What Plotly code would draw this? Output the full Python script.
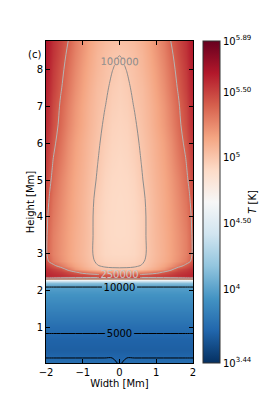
import numpy as np
import plotly.graph_objects as go

# Width positions (half grid, Mm); field is mirror-symmetric about x = 0
WIDTH_HALF = [0.0, 0.2, 0.4, 0.6, 0.8, 1.0, 1.2, 1.4, 1.6, 1.8, 1.9, 2.0]

# Heights (Mm), bottom to top
HEIGHTS = [0.04, 0.25, 0.4, 0.7, 1.0, 1.2, 1.6, 1.9, 2.08, 2.15, 2.2, 2.26, 2.30,
           2.33, 2.37, 2.42, 2.5, 2.6, 2.68, 2.8, 3.0, 3.5, 4.0, 4.5, 5.0, 5.5,
           6.0, 6.5, 7.0, 7.5, 8.0, 8.4, 8.77]

# log10(T [K]), one row per height, columns = WIDTH_HALF
LOG_T_HALF = [
    [3.68, 3.74, 3.74, 3.74, 3.74, 3.74, 3.74, 3.74, 3.74, 3.74, 3.74, 3.74],
    [3.675, 3.675, 3.675, 3.675, 3.675, 3.675, 3.675, 3.675, 3.675, 3.675, 3.675, 3.675],
    [3.655, 3.655, 3.655, 3.655, 3.655, 3.655, 3.655, 3.655, 3.655, 3.655, 3.655, 3.655],
    [3.675, 3.675, 3.675, 3.675, 3.675, 3.675, 3.675, 3.675, 3.675, 3.675, 3.675, 3.675],
    [3.725, 3.725, 3.725, 3.725, 3.725, 3.725, 3.725, 3.725, 3.725, 3.725, 3.725, 3.725],
    [3.77, 3.77, 3.77, 3.77, 3.77, 3.77, 3.77, 3.77, 3.77, 3.77, 3.77, 3.77],
    [3.86, 3.86, 3.86, 3.86, 3.86, 3.86, 3.86, 3.86, 3.86, 3.86, 3.86, 3.86],
    [3.93, 3.93, 3.93, 3.93, 3.93, 3.93, 3.93, 3.93, 3.93, 3.93, 3.93, 3.93],
    [3.98, 3.98, 3.98, 3.98, 3.98, 3.98, 3.98, 3.98, 3.98, 3.98, 3.98, 3.98],
    [4.05, 4.05, 4.05, 4.05, 4.05, 4.05, 4.05, 4.05, 4.05, 4.05, 4.05, 4.05],
    [4.14, 4.14, 4.14, 4.14, 4.14, 4.14, 4.14, 4.14, 4.14, 4.14, 4.14, 4.14],
    [4.40, 4.40, 4.40, 4.40, 4.40, 4.40, 4.40, 4.40, 4.40, 4.40, 4.40, 4.40],
    [4.60, 4.60, 4.60, 4.60, 4.60, 4.60, 4.60, 4.60, 4.60, 4.60, 4.60, 4.60],
    [5.12, 5.12, 5.12, 5.13, 5.13, 5.14, 5.15, 5.16, 5.17, 5.18, 5.19, 5.20],
    [5.46, 5.46, 5.465, 5.47, 5.48, 5.49, 5.50, 5.52, 5.54, 5.56, 5.57, 5.58],
    [5.42, 5.422, 5.43, 5.44, 5.46, 5.48, 5.50, 5.53, 5.56, 5.58, 5.59, 5.60],
    [5.20, 5.205, 5.22, 5.25, 5.29, 5.34, 5.41, 5.47, 5.52, 5.55, 5.565, 5.58],
    [5.01, 5.012, 5.02, 5.045, 5.09, 5.14, 5.21, 5.33, 5.45, 5.51, 5.535, 5.56],
    [4.97, 4.972, 4.98, 5.005, 5.05, 5.10, 5.16, 5.23, 5.32, 5.43, 5.47, 5.52],
    [4.94, 4.942, 4.95, 4.98, 5.03, 5.075, 5.12, 5.17, 5.23, 5.31, 5.37, 5.45],
    [4.92, 4.922, 4.93, 4.965, 5.02, 5.065, 5.11, 5.16, 5.215, 5.285, 5.335, 5.42],
    [4.91, 4.913, 4.925, 4.96, 5.025, 5.07, 5.115, 5.165, 5.22, 5.29, 5.34, 5.42],
    [4.91, 4.913, 4.925, 4.96, 5.025, 5.075, 5.125, 5.175, 5.235, 5.31, 5.36, 5.43],
    [4.91, 4.915, 4.93, 4.97, 5.03, 5.08, 5.13, 5.185, 5.25, 5.33, 5.385, 5.46],
    [4.915, 4.92, 4.94, 4.99, 5.04, 5.09, 5.14, 5.20, 5.27, 5.36, 5.42, 5.49],
    [4.92, 4.93, 4.955, 5.003, 5.05, 5.10, 5.155, 5.22, 5.30, 5.39, 5.45, 5.52],
    [4.93, 4.94, 4.97, 5.015, 5.06, 5.11, 5.17, 5.24, 5.33, 5.425, 5.485, 5.55],
    [4.94, 4.95, 4.985, 5.03, 5.075, 5.13, 5.195, 5.27, 5.36, 5.46, 5.52, 5.58],
    [4.95, 4.965, 5.003, 5.04, 5.085, 5.14, 5.21, 5.29, 5.38, 5.48, 5.54, 5.60],
    [4.96, 4.98, 5.02, 5.05, 5.10, 5.16, 5.235, 5.32, 5.41, 5.51, 5.565, 5.62],
    [4.975, 5.003, 5.03, 5.07, 5.12, 5.18, 5.26, 5.345, 5.435, 5.53, 5.585, 5.64],
    [5.002, 5.015, 5.04, 5.08, 5.135, 5.20, 5.28, 5.37, 5.46, 5.55, 5.60, 5.65],
    [5.03, 5.04, 5.06, 5.10, 5.15, 5.22, 5.30, 5.40, 5.48, 5.56, 5.61, 5.66],
]

# Contour levels (K)
BLACK_LEVELS = [5000, 10000]
GRAY_LEVEL_1 = 100000
GRAY_LEVEL_2 = 250000
CORONA_BASE = 2.42  # Mm: the 100000 K loop is labelled only above this height

# Colour bar
CBAR_MIN, CBAR_MAX = 3.44, 5.89
CBAR_TICKS = [3.44, 4.0, 4.5, 5.0, 5.5, 5.89]
CBAR_TEXT = ["10<sup>3.44</sup>", "10<sup>4</sup>", "10<sup>4.50</sup>",
             "10<sup>5</sup>", "10<sup>5.50</sup>", "10<sup>5.89</sup>"]

X_TICKS = [-2, -1, 0, 1, 2]
Y_TICKS = [1, 2, 3, 4, 5, 6, 7, 8]

RDBU_R = [[0.0, "#053061"], [0.1, "#2166ac"], [0.2, "#4393c3"], [0.3, "#92c5de"],
          [0.4, "#d1e5f0"], [0.5, "#f7f7f7"], [0.6, "#fddbc7"], [0.7, "#f4a582"],
          [0.8, "#d6604d"], [0.9, "#b2182b"], [1.0, "#67001f"]]

# Build full symmetric grid from the half table
x_full = [-w for w in WIDTH_HALF[:0:-1]] + WIDTH_HALF
log_t = np.array([row[:0:-1] + row for row in LOG_T_HALF])
temp = 10.0 ** log_t
heights = np.array(HEIGHTS)
upper = heights >= CORONA_BASE
lower = heights <= CORONA_BASE

FONT = "DejaVu Sans"

fig = go.Figure()
fig.add_trace(go.Heatmap(
    x=x_full, y=HEIGHTS, z=log_t, zsmooth="best",
    colorscale=RDBU_R, zmin=CBAR_MIN, zmax=CBAR_MAX, hoverinfo="skip",
    colorbar=dict(
        x=1.068, xanchor="left", xpad=0, y=0.5, yanchor="middle", ypad=0,
        len=1, lenmode="fraction", thickness=17, outlinewidth=1, outlinecolor="#333",
        tickvals=CBAR_TICKS, ticktext=CBAR_TEXT, ticks="",
        tickfont=dict(family=FONT, size=10, color="black"),
    ),
))


def contour_trace(ys, zs, start, end, size, line_color, label_color, labels=True):
    return go.Contour(
        x=x_full, y=ys, z=zs, showscale=False, hoverinfo="skip",
        contours=dict(start=start, end=end, size=size, coloring="none",
                      showlabels=labels, labelformat="d",
                      labelfont=dict(family=FONT, size=10, color=label_color)),
        line=dict(color=line_color, width=1),
    )


fig.add_trace(contour_trace(HEIGHTS, temp, BLACK_LEVELS[0], BLACK_LEVELS[-1],
                            BLACK_LEVELS[1] - BLACK_LEVELS[0], "black", "black"))
fig.add_trace(contour_trace(heights[lower], temp[lower], GRAY_LEVEL_1, GRAY_LEVEL_1, 1,
                            "#8c8c8c", "#8c8c8c", labels=False))
fig.add_trace(contour_trace(heights[upper], temp[upper], GRAY_LEVEL_1, GRAY_LEVEL_1, 1,
                            "#8c8c8c", "#8c8c8c"))
fig.add_trace(contour_trace(HEIGHTS, temp, GRAY_LEVEL_2, GRAY_LEVEL_2, 1,
                            "#b4b4b4", "#c8c8c8"))

axis_common = dict(showline=True, linecolor="black", linewidth=1, mirror="ticks",
                   ticks="inside", ticklen=4, tickcolor="black", showgrid=False,
                   zeroline=False, tickfont=dict(family=FONT, size=10, color="black"))

# page body has an 8 px default margin, so the figure is sized to fit the window
fig.update_layout(
    width=266, height=396,
    margin=dict(l=38, r=81, t=33, b=41),
    paper_bgcolor="white", plot_bgcolor="white",
    showlegend=False,
    xaxis=dict(range=[-2, 2], tickvals=X_TICKS,
               title=dict(text="Width [Mm]", standoff=2,
                          font=dict(family=FONT, size=10, color="black")),
               **axis_common),
    yaxis=dict(range=[0.04, 8.77], tickvals=Y_TICKS,
               title=dict(text="Height [Mm]", standoff=0,
                          font=dict(family=FONT, size=10, color="black")),
               **axis_common),
    annotations=[
        dict(text="(c)", x=-0.02, y=0.98, xref="paper", yref="paper",
             xanchor="right", showarrow=False,
             font=dict(family=FONT, size=10, color="black")),
        dict(text="<i>T</i> [K]", x=1.40, y=0.5, xref="paper", yref="paper",
             xanchor="center", yanchor="middle", textangle=-90, showarrow=False,
             font=dict(family=FONT, size=10, color="black")),
    ],
)

fig.write_html("out.html")
